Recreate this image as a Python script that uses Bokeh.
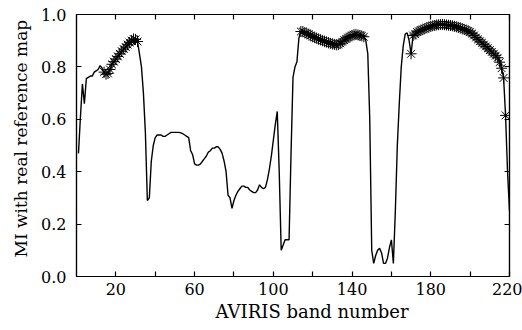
from bokeh.plotting import figure
from bokeh.models import LinearAxis, FixedTicker, Range1d, PrintfTickFormatter, ColumnDataSource, Title
from bokeh.embed import file_html
from bokeh.resources import INLINE

# MI value for each AVIRIS band (1..220)
mi_values = [
    0.47, 0.61, 0.735, 0.66, 0.755, 0.76, 0.765, 0.765, 0.78, 0.785,          # 1-10
    0.79, 0.805, 0.795, 0.78, 0.772, 0.775, 0.79, 0.81, 0.82, 0.83,           # 11-20
    0.84, 0.85, 0.86, 0.868, 0.876, 0.885, 0.893, 0.9, 0.907, 0.905,          # 21-30
    0.897, 0.85, 0.8, 0.7, 0.55, 0.29, 0.3, 0.44, 0.5, 0.53,                  # 31-40
    0.54, 0.54, 0.54, 0.535, 0.535, 0.54, 0.545, 0.55, 0.55, 0.55,            # 41-50
    0.55, 0.55, 0.548, 0.545, 0.54, 0.535, 0.53, 0.48, 0.465, 0.43,           # 51-60
    0.425, 0.425, 0.43, 0.44, 0.45, 0.46, 0.475, 0.48, 0.49, 0.49,            # 61-70
    0.495, 0.495, 0.485, 0.47, 0.44, 0.4, 0.31, 0.3, 0.26, 0.29,              # 71-80
    0.31, 0.325, 0.335, 0.345, 0.345, 0.34, 0.34, 0.33, 0.325, 0.32,          # 81-90
    0.32, 0.33, 0.35, 0.34, 0.335, 0.34, 0.37, 0.41, 0.46, 0.52,              # 91-100
    0.58, 0.63, 0.4, 0.1, 0.12, 0.14, 0.14, 0.14, 0.47, 0.76,                 # 101-110
    0.8, 0.82, 0.91, 0.935, 0.935, 0.93, 0.928, 0.925, 0.92, 0.915,           # 111-120
    0.912, 0.91, 0.906, 0.903, 0.9, 0.898, 0.895, 0.892, 0.89, 0.888,         # 121-130
    0.886, 0.884, 0.885, 0.89, 0.896, 0.902, 0.907, 0.912, 0.916, 0.92,       # 131-140
    0.923, 0.924, 0.922, 0.92, 0.918, 0.915, 0.9, 0.85, 0.6, 0.1,             # 141-150
    0.05, 0.08, 0.1, 0.108, 0.09, 0.05, 0.05, 0.07, 0.11, 0.14,               # 151-160
    0.05, 0.25, 0.5, 0.66, 0.8, 0.88, 0.925, 0.93, 0.9, 0.85,                 # 161-170
    0.92, 0.925, 0.933, 0.936, 0.94, 0.943, 0.946, 0.95, 0.952, 0.955,        # 171-180
    0.957, 0.958, 0.96, 0.961, 0.962, 0.962, 0.961, 0.96, 0.959, 0.958,       # 181-190
    0.957, 0.955, 0.953, 0.951, 0.949, 0.946, 0.943, 0.94, 0.937, 0.933,      # 191-200
    0.927, 0.92, 0.912, 0.905, 0.898, 0.892, 0.885, 0.878, 0.871, 0.864,      # 201-210
    0.857, 0.85, 0.843, 0.835, 0.818, 0.795, 0.758, 0.615, 0.4, 0.25,         # 211-220
]
bands = list(range(1, 221))

# bands marked with an asterisk (selected bands)
selected_bands = list(range(14, 32)) + list(range(114, 147)) + list(range(170, 219))
selected_values = [mi_values[b - 1] for b in selected_bands]

x_ticks = [20, 40, 60, 80, 100, 120, 140, 160, 180, 200, 220]
x_tick_labels = {20: "20", 40: "", 60: "60", 80: "", 100: "100", 120: "", 140: "140",
                 160: "", 180: "180", 200: "", 220: "220"}
y_ticks = [0.0, 0.2, 0.4, 0.6, 0.8, 1.0]
x_label = "AVIRIS band number"
y_label = "MI with real reference map"

FONT = "DejaVu Serif"

p = figure(width=522, height=330, output_backend="svg", toolbar_location=None,
           x_range=Range1d(0, 220), y_range=Range1d(0, 1.0),
           min_border_left=76, min_border_right=13, min_border_top=14, min_border_bottom=54)
p.xgrid.visible = False
p.ygrid.visible = False
p.outline_line_color = "black"
p.outline_line_width = 1.2
p.background_fill_color = "white"
p.border_fill_color = "white"

src = ColumnDataSource(dict(x=bands, y=mi_values))
p.line("x", "y", source=src, line_color="black", line_width=1.4)
p.scatter(selected_bands, selected_values, marker="asterisk", size=11,
          line_color="black", line_width=1.0)

def style_axis(ax, labels=True):
    ax.axis_line_color = "black"
    ax.axis_line_width = 1.2
    ax.major_tick_in = 5
    ax.major_tick_out = 0
    ax.minor_tick_line_color = None
    ax.major_tick_line_color = "black"
    ax.major_tick_line_width = 1.2
    ax.major_label_text_font = FONT
    ax.major_label_text_color = "black"
    ax.major_label_text_font_size = "16px" if labels else "0px"

xa = p.xaxis[0]
xa.ticker = FixedTicker(ticks=x_ticks)
xa.major_label_overrides = x_tick_labels
style_axis(xa)
xa.major_label_standoff = 6

ya = p.yaxis[0]
ya.ticker = FixedTicker(ticks=y_ticks)
ya.formatter = PrintfTickFormatter(format="%.1f")
style_axis(ya)
ya.major_label_standoff = 10

top = LinearAxis(ticker=FixedTicker(ticks=x_ticks), major_label_standoff=0)
style_axis(top, labels=False)
top.major_label_overrides = {t: "" for t in x_ticks}
p.add_layout(top, "above")

right = LinearAxis(ticker=FixedTicker(ticks=y_ticks), major_label_standoff=0)
style_axis(right, labels=False)
right.major_label_overrides = {t: "" for t in y_ticks}
p.add_layout(right, "right")

# axis titles (placed as titles so they can sit off-centre like the reference)
xt = Title(text=x_label, align="left", offset=139, standoff=2,
           text_font=FONT, text_font_size="18px", text_font_style="normal", text_color="black")
p.add_layout(xt, "below")
yt = Title(text=y_label, align="left", offset=19, standoff=15,
           text_font=FONT, text_font_size="17px", text_font_style="normal", text_color="black")
p.add_layout(yt, "left")

open("out.html", "w").write(file_html(p, INLINE))
